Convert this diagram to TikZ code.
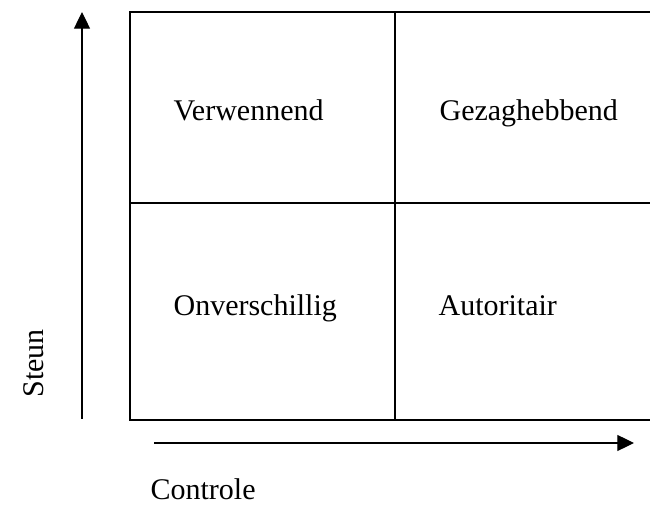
\documentclass[tikz,border=0pt]{standalone}
\usepackage{fontspec}
\setmainfont{Liberation Serif}
\usetikzlibrary{arrows.meta}
\begin{document}
\begin{tikzpicture}[x=0.75pt,y=-0.75pt,
  line width=0.9pt,
  lbl/.style={inner sep=0pt,anchor=base west,font=\fontsize{22.5}{27}\selectfont},
  axis/.style={-{Triangle[length=12.5pt,width=12pt]}}]
\useasboundingbox (0,0) rectangle (650,505);
\begin{scope}
\clip (0,0) rectangle (650,505);
\draw (130,12) rectangle (680,420);
\draw (395,12) -- (395,420);
\draw (130,203) -- (680,203);
\end{scope}
\node[lbl] (verw) at (173,121) {Verwennend};
\node[lbl] (gez) at (439,121) {Gezaghebbend};
\node[lbl] (onv) at (173,316) {Onverschillig};
\node[lbl] (aut) at (438,316) {Autoritair};
\node[lbl,rotate=90] (steun) at (43,398) {Steun};
\node[lbl] (contr) at (150,500) {Controle};
\coordinate (ys) at (82,419);
\coordinate (ye) at (82,12);
\coordinate (xs) at (154,443);
\coordinate (xe) at (634,443);
\draw[axis] (ys) -- (ye);
\draw[axis] (xs) -- (xe);
\end{tikzpicture}
\end{document}
